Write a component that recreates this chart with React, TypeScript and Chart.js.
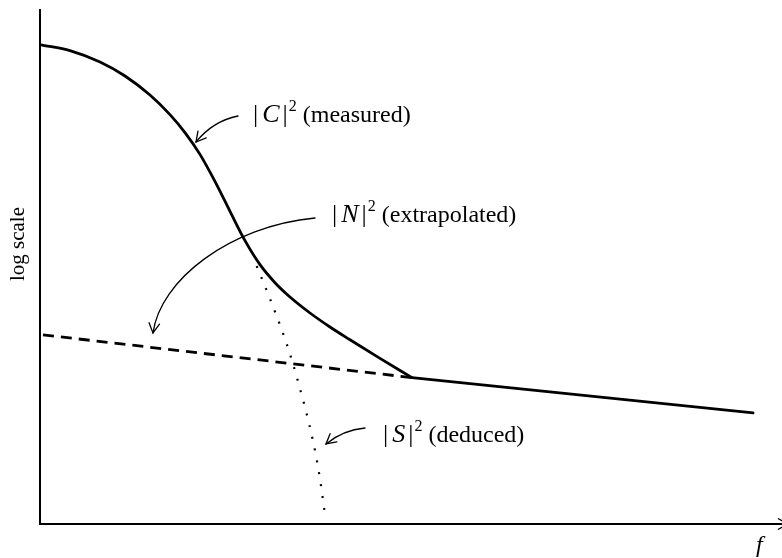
import React, { useEffect, useRef } from "react";
import { Chart, registerables } from "chart.js";

Chart.register(...registerables);

// Frequency (0..100 across axis) and log-scale level (0..100 up the axis)
const measuredF = [0.27, 4.04, 8.09, 11.46, 14.82, 17.52, 19.54, 21.56, 23.58, 25.61, 27.63, 29.65, 31.67, 33.69, 36.39, 39.08, 41.78, 45.82, 50.13];
const measuredLog = [93.19, 92.1, 89.88, 87.16, 83.46, 79.65, 76.15, 71.91, 66.65, 60.82, 55.12, 50.45, 46.95, 44.16, 41.05, 38.33, 35.84, 32.22, 28.48];
const measuredTailF = [50.13, 96.1];
const measuredTailLog = [28.48, 21.6];
const noiseF = [0.4, 50.13];
const noiseLog = [36.8, 28.48];
const signalF = [29.2, 31.0, 33.3, 34.8, 36.8, 37.7, 38.4];
const signalLog = [50.2, 43.8, 34.8, 27.6, 16.1, 9.1, 1.9];

const labelMeasured = "(measured)";
const labelNoise = "(extrapolated)";
const labelSignal = "(deduced)";
const yAxisLabel = "log scale";
const xAxisLabel = "f";

const SERIF = '"Liberation Serif", "Times New Roman", serif';

const pts = (xs: number[], ys: number[]) => xs.map((x, i) => ({ x, y: ys[i] }));

function arrowHead(ctx: CanvasRenderingContext2D, tipX: number, tipY: number, dx: number, dy: number) {
  const ang = Math.atan2(dy, dx);
  const len = 11;
  const spread = 0.5;
  ctx.beginPath();
  ctx.moveTo(tipX - len * Math.cos(ang - spread), tipY - len * Math.sin(ang - spread));
  ctx.lineTo(tipX, tipY);
  ctx.lineTo(tipX - len * Math.cos(ang + spread), tipY - len * Math.sin(ang + spread));
  ctx.stroke();
}

function drawMathLabel(ctx: CanvasRenderingContext2D, x: number, baseline: number, letter: string, rest: string) {
  ctx.fillStyle = "#000";
  ctx.textAlign = "left";
  ctx.textBaseline = "alphabetic";
  const upright = `26px ${SERIF}`;
  const italic = `italic 26px ${SERIF}`;
  ctx.font = upright;
  ctx.fillText("|", x, baseline);
  let cx = x + ctx.measureText("|").width + 4;
  ctx.font = italic;
  ctx.fillText(letter, cx, baseline);
  cx += ctx.measureText(letter).width + 3;
  ctx.font = upright;
  ctx.fillText("|", cx, baseline);
  cx += ctx.measureText("|").width + 1;
  ctx.font = `16px ${SERIF}`;
  ctx.fillText("2", cx, baseline - 11);
  cx += ctx.measureText("2").width + 6;
  ctx.font = `24px ${SERIF}`;
  ctx.fillText(rest, cx, baseline);
}

const annotationPlugin = {
  id: "annotations",
  afterDraw(chart: any) {
    const ctx: CanvasRenderingContext2D = chart.ctx;
    ctx.save();
    ctx.strokeStyle = "#000";
    ctx.fillStyle = "#000";

    // labels
    drawMathLabel(ctx, 253, 122, "C", labelMeasured);
    drawMathLabel(ctx, 332, 222, "N", labelNoise);
    drawMathLabel(ctx, 383, 442, "S", labelSignal);

    // arrows
    ctx.lineWidth = 1.3;
    ctx.lineCap = "round";
    // C arrow
    ctx.beginPath();
    ctx.moveTo(238, 116);
    ctx.quadraticCurveTo(213, 121, 196, 142);
    ctx.stroke();
    arrowHead(ctx, 196, 142, 196 - 213, 142 - 121);
    // N arrow
    ctx.beginPath();
    ctx.moveTo(315, 218);
    ctx.bezierCurveTo(230, 226, 160, 280, 153, 333);
    ctx.stroke();
    arrowHead(ctx, 153, 333, 153 - 160, 333 - 280);
    // S arrow
    ctx.beginPath();
    ctx.moveTo(365, 428);
    ctx.quadraticCurveTo(343, 430, 326, 444);
    ctx.stroke();
    arrowHead(ctx, 326, 444, 326 - 343, 444 - 430);

    // x-axis arrow tip (mostly off canvas)
    const area = chart.chartArea;
    arrowHead(ctx, area.right + 6, area.bottom, 1, 0);

    // axis labels
    ctx.font = `21px ${SERIF}`;
    ctx.textAlign = "center";
    ctx.textBaseline = "middle";
    ctx.save();
    ctx.translate(18, 244);
    ctx.rotate(-Math.PI / 2);
    ctx.fillText(yAxisLabel, 0, 0);
    ctx.restore();

    ctx.font = `italic 24px ${SERIF}`;
    ctx.textAlign = "left";
    ctx.textBaseline = "alphabetic";
    ctx.fillText(xAxisLabel, 756, 552);
    ctx.restore();
  },
};

export default function App() {
  const ref = useRef<HTMLCanvasElement | null>(null);

  useEffect(() => {
    if (!ref.current) return;
    const chart = new Chart(ref.current, {
      type: "line",
      data: {
        datasets: [
          {
            data: pts(measuredF, measuredLog),
            borderColor: "#000",
            borderWidth: 2.8,
            cubicInterpolationMode: "monotone",
            pointRadius: 0,
            borderCapStyle: "round",
            borderJoinStyle: "round",
          },
          {
            data: pts(measuredTailF, measuredTailLog),
            borderColor: "#000",
            borderWidth: 2.8,
            tension: 0,
            pointRadius: 0,
            borderCapStyle: "round",
          },
          {
            data: pts(noiseF, noiseLog),
            borderColor: "#000",
            borderWidth: 2.8,
            borderDash: [11, 7],
            tension: 0,
            pointRadius: 0,
          },
          {
            data: pts(signalF, signalLog),
            borderColor: "#000",
            borderWidth: 2.2,
            borderDash: [2, 10],
            cubicInterpolationMode: "monotone",
            pointRadius: 0,
          },
        ],
      },
      options: {
        responsive: false,
        animation: false,
        devicePixelRatio: 1,
        layout: { padding: { left: 40, top: 10, right: 0, bottom: 34 } },
        plugins: { legend: { display: false }, tooltip: { enabled: false } },
        scales: {
          x: {
            type: "linear",
            min: 0,
            max: 100,
            grid: { display: false, drawTicks: false },
            ticks: { display: false },
            border: { display: true, color: "#000", width: 2 },
          },
          y: {
            type: "linear",
            min: 0,
            max: 100,
            grid: { display: false, drawTicks: false },
            ticks: { display: false },
            border: { display: true, color: "#000", width: 2 },
          },
        },
      },
      plugins: [annotationPlugin],
    });
    return () => chart.destroy();
  }, []);

  return (
    <div style={{ position: "absolute", left: 0, top: 0, width: 782, height: 558, background: "#fff" }}>
      <canvas ref={ref} width={782} height={558} style={{ display: "block" }} />
    </div>
  );
}
